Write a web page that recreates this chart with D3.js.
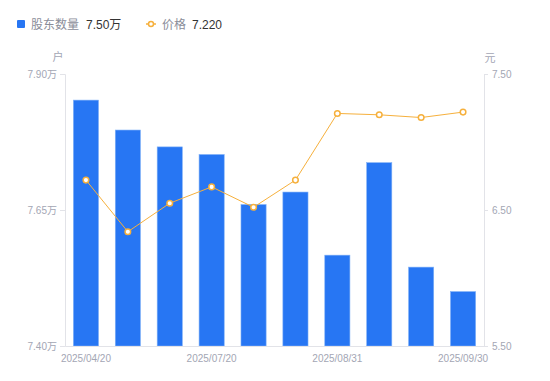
<!DOCTYPE html>
<html>
<head>
<meta charset="utf-8">
<script src="https://cdn.jsdelivr.net/npm/d3@7"></script>
<style>
  body { margin: 0; background: #fff; }
  svg { display: block; font-family: "Liberation Sans", "Noto Sans CJK SC", sans-serif; }
</style>
</head>
<body>
<div id="wrapper"></div>
<script>
const dates = ['2025/04/20', '2025/05/20', '2025/06/20', '2025/07/20', '2025/07/31',
  '2025/08/20', '2025/08/31', '2025/09/10', '2025/09/20', '2025/09/30']
const holders = [7.852, 7.797, 7.766, 7.752, 7.660, 7.683, 7.567, 7.737, 7.545, 7.500]
const prices = [6.72, 6.34, 6.55, 6.67, 6.52, 6.72, 7.21, 7.20, 7.18, 7.22]
const leftTicks = [7.40, 7.65, 7.90]
const rightTicks = [5.50, 6.50, 7.50]
const shownDates = ['2025/04/20', '2025/07/20', '2025/08/31', '2025/09/30']

const width = 550
const height = 381
const margin = { top: 74, right: 66, bottom: 35, left: 65 }
const boundedWidth = width - margin.left - margin.right
const boundedHeight = height - margin.top - margin.bottom

const gray = '#a3a6b4'
const axisColor = '#e2e3e8'
const barColor = '#2776f3'
const lineColor = '#f6b03c'
const fontStack = '"Liberation Sans", "Noto Sans CJK SC", sans-serif'

const svg = d3.select('#wrapper')
  .append('svg')
    .attr('width', width)
    .attr('height', height)

const bounds = svg.append('g')
    .attr('transform', `translate(${margin.left},${margin.top})`)

const xScale = d3.scaleBand()
    .domain(dates)
    .range([0, boundedWidth])
    .paddingInner(0.4)
    .paddingOuter(0.2)

const yLeft = d3.scaleLinear()
    .domain([7.40, 7.90])
    .range([boundedHeight, 0])

const yRight = d3.scaleLinear()
    .domain([5.50, 7.50])
    .range([boundedHeight, 0])

// bars
bounds.append('g')
  .selectAll('rect')
  .data(dates)
  .join('rect')
    .attr('x', d => xScale(d))
    .attr('y', (d, i) => yLeft(holders[i]))
    .attr('width', xScale.bandwidth())
    .attr('height', (d, i) => boundedHeight - yLeft(holders[i]))
    .attr('fill', barColor)
    .attr('stroke', '#7fb0f7')
    .attr('stroke-width', 0.6)

// axes
const leftAxis = bounds.append('g')
    .call(d3.axisLeft(yLeft)
      .tickValues(leftTicks)
      .tickSize(5)
      .tickPadding(3)
      .tickFormat(d => d3.format('.2f')(d) + '万'))
leftAxis.selectAll('path, line').attr('stroke', axisColor)
leftAxis.selectAll('text').attr('fill', gray).style('font-size', '10px')
  .style('font-family', fontStack)

const rightAxis = bounds.append('g')
    .attr('transform', `translate(${boundedWidth},0)`)
    .call(d3.axisRight(yRight)
      .tickValues(rightTicks)
      .tickSize(4)
      .tickPadding(4)
      .tickFormat(d3.format('.2f')))
rightAxis.selectAll('path, line').attr('stroke', axisColor)
rightAxis.selectAll('text').attr('fill', gray).style('font-size', '10px')
  .style('font-family', fontStack)

const bottomAxis = bounds.append('g')
    .attr('transform', `translate(0,${boundedHeight})`)
    .call(d3.axisBottom(xScale)
      .tickValues(shownDates)
      .tickSize(0)
      .tickPadding(9))
bottomAxis.select('path').attr('stroke', axisColor).attr('d', `M0.5,0.5H${boundedWidth}`)
bottomAxis.selectAll('text').attr('fill', gray).style('font-size', '10px')
  .style('font-family', fontStack)

// unit labels
bounds.append('text')
    .attr('x', -7).attr('y', -13)
    .attr('text-anchor', 'middle')
    .attr('fill', gray)
    .style('font-size', '11px')
    .text('户')
bounds.append('text')
    .attr('x', boundedWidth + 6).attr('y', -12)
    .attr('text-anchor', 'middle')
    .attr('fill', gray)
    .style('font-size', '11px')
    .text('元')

// price line
const xCenter = d => xScale(d) + xScale.bandwidth() / 2
const lineGenerator = d3.line()
    .x((d, i) => xCenter(dates[i]))
    .y(d => yRight(d))

bounds.append('path')
    .attr('d', lineGenerator(prices))
    .attr('fill', 'none')
    .attr('stroke', lineColor)
    .attr('stroke-width', 1)

bounds.append('g')
  .selectAll('circle')
  .data(prices)
  .join('circle')
    .attr('cx', (d, i) => xCenter(dates[i]))
    .attr('cy', d => yRight(d))
    .attr('r', 2.8)
    .attr('fill', '#fff')
    .attr('stroke', lineColor)
    .attr('stroke-width', 1.5)

// legend
const legend = svg.append('g')
    .attr('transform', 'translate(0,24)')
legend.append('rect')
    .attr('x', 17).attr('y', -4)
    .attr('width', 8).attr('height', 8)
    .attr('rx', 1)
    .attr('fill', barColor)
legend.append('text')
    .attr('x', 31).attr('y', 4.5)
    .attr('fill', '#8a8d99')
    .style('font-size', '12px')
    .text('股东数量')
legend.append('text')
    .attr('x', 86).attr('y', 4.5)
    .attr('fill', '#333')
    .style('font-size', '12px')
    .text('7.50万')

legend.append('line')
    .attr('x1', 146).attr('x2', 156)
    .attr('y1', 0).attr('y2', 0)
    .attr('stroke', lineColor)
    .attr('stroke-width', 1.5)
legend.append('circle')
    .attr('cx', 151).attr('cy', 0)
    .attr('r', 2.5)
    .attr('fill', '#fff')
    .attr('stroke', lineColor)
    .attr('stroke-width', 1.5)
legend.append('text')
    .attr('x', 162).attr('y', 4.5)
    .attr('fill', '#8a8d99')
    .style('font-size', '12px')
    .text('价格')
legend.append('text')
    .attr('x', 192).attr('y', 4.5)
    .attr('fill', '#333')
    .style('font-size', '12px')
    .text('7.220')
</script>
</body>
</html>
